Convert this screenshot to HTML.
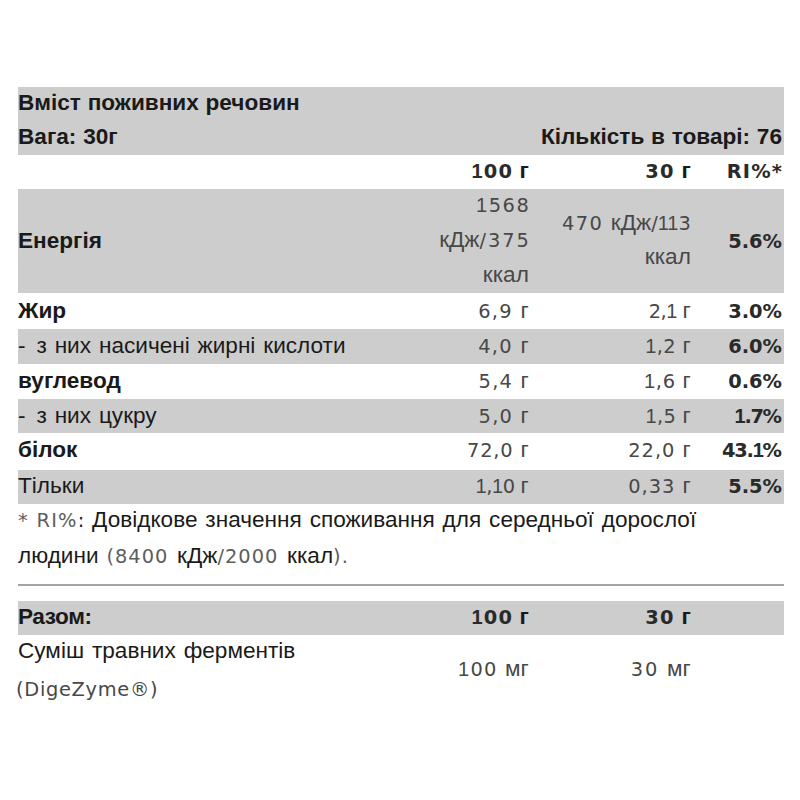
<!DOCTYPE html>
<html lang="uk">
<head>
<meta charset="utf-8">
<title>Вміст поживних речовин</title>
<style>
html,body{margin:0;padding:0;background:#fff;}
body{width:800px;height:800px;position:relative;overflow:hidden;
  font-family:"Liberation Sans",Arial,sans-serif;font-size:22.6px;color:#1a1a1a;}
.band{position:absolute;left:18px;width:766px;background:#cdcdcd;}
.rule{position:absolute;left:18px;width:766px;top:584px;height:2px;background:#a3a3a3;}
.ln{position:absolute;white-space:nowrap;line-height:35px;height:35px;}
.l{left:18px;}
.ws{word-spacing:1.6px;}
.b.ws{word-spacing:0.5px;}
.r2{right:271.2px;text-align:right;}
.r3{right:109.2px;text-align:right;}
.r4{right:18px;text-align:right;}
.b{font-weight:bold;}
.v{color:#484848;}
.d{font-family:"DejaVu Sans",sans-serif;font-size:19.4px;line-height:0;}
.db{font-family:"DejaVu Sans",sans-serif;font-size:19.4px;line-height:0;font-weight:bold;color:#2a2a2a;}
.fn{color:#5e5e5e;}
.n1{font-family:"Liberation Sans",sans-serif;font-size:20px;}
</style>
</head>
<body>
<div class="band" style="top:87px;height:68px"></div>
<div class="band" style="top:189px;height:104px"></div>
<div class="band" style="top:329px;height:35px"></div>
<div class="band" style="top:399px;height:34px"></div>
<div class="band" style="top:470px;height:34px"></div>
<div class="band" style="top:601px;height:34px"></div>
<div class="rule"></div>
<div class="ln l b ws" style="top:85px">Вміст поживних речовин</div>
<div class="ln l b ws" style="top:119px">Вага: 30г</div>
<div class="ln r4 b ws" style="top:119px">Кількість в товарі: 76</div>
<div class="ln r2 b" style="top:153px"><span class="db" style="letter-spacing:1.16px"><span class="n1">1</span>00</span> г</div>
<div class="ln r3 b" style="top:153px"><span class="db" style="letter-spacing:1.50px">30</span> г</div>
<div class="ln r4 b" style="top:153px;margin-right:-1.20px"><span class="db" style="letter-spacing:1.20px">RI%*</span></div>
<div class="ln l ws b" style="top:223px">Енергія</div>
<div class="ln r2 v" style="top:187px;margin-right:-1.54px"><span class="d" style="letter-spacing:1.54px"><span class="n1">1</span>568</span></div>
<div class="ln r2 v" style="top:222px;margin-right:-1.93px">кДж<span class="d" style="letter-spacing:1.93px">/375</span></div>
<div class="ln r2 v" style="top:257px">ккал</div>
<div class="ln r3 v" style="top:205px;margin-right:0.00px"><span class="d" style="letter-spacing:1.40px">470 </span>кДж<span class="d" style="letter-spacing:0.00px">/<span class="n1">1</span><span class="n1">1</span>3</span></div>
<div class="ln r3 v" style="top:239px">ккал</div>
<div class="ln r4" style="top:223px"><span class="db" style="letter-spacing:0.00px">5.6%</span></div>
<div class="ln l ws b" style="top:293px">Жир</div>
<div class="ln r2 v" style="top:293px"><span class="d" style="letter-spacing:1.35px">6,9 </span>г</div>
<div class="ln r3 v" style="top:293px"><span class="d" style="letter-spacing:-0.48px">2,<span class="n1">1</span> </span>г</div>
<div class="ln r4" style="top:293px;margin-right:0.00px"><span class="db" style="letter-spacing:0.00px">3.0%</span></div>
<div class="ln l ws" style="top:328px"><span style="letter-spacing:3px">-</span> з них насичені жирні кислоти</div>
<div class="ln r2 v" style="top:328px"><span class="d" style="letter-spacing:1.35px">4,0 </span>г</div>
<div class="ln r3 v" style="top:328px"><span class="d" style="letter-spacing:0.40px"><span class="n1">1</span>,2 </span>г</div>
<div class="ln r4" style="top:328px;margin-right:0.00px"><span class="db" style="letter-spacing:0.00px">6.0%</span></div>
<div class="ln l ws b" style="top:363px">вуглевод</div>
<div class="ln r2 v" style="top:363px"><span class="d" style="letter-spacing:1.25px">5,4 </span>г</div>
<div class="ln r3 v" style="top:363px"><span class="d" style="letter-spacing:0.71px"><span class="n1">1</span>,6 </span>г</div>
<div class="ln r4" style="top:363px;margin-right:0.00px"><span class="db" style="letter-spacing:0.00px">0.6%</span></div>
<div class="ln l ws" style="top:398px"><span style="letter-spacing:3px">-</span> з них цукру</div>
<div class="ln r2 v" style="top:398px"><span class="d" style="letter-spacing:1.25px">5,0 </span>г</div>
<div class="ln r3 v" style="top:398px"><span class="d" style="letter-spacing:0.30px"><span class="n1">1</span>,5 </span>г</div>
<div class="ln r4" style="top:398px;margin-right:1.33px"><span class="db" style="letter-spacing:-1.33px"><span class="n1">1</span>.7%</span></div>
<div class="ln l ws b" style="top:432px">білок</div>
<div class="ln r2 v" style="top:432px"><span class="d" style="letter-spacing:0.84px">72,0 </span>г</div>
<div class="ln r3 v" style="top:432px"><span class="d" style="letter-spacing:1.00px">22,0 </span>г</div>
<div class="ln r4" style="top:432px;margin-right:1.25px"><span class="db" style="letter-spacing:-1.25px">43.<span class="n1">1</span>%</span></div>
<div class="ln l ws" style="top:468px">Тільки</div>
<div class="ln r2 v" style="top:468px"><span class="d" style="letter-spacing:-0.36px"><span class="n1">1</span>,<span class="n1">1</span>0 </span>г</div>
<div class="ln r3 v" style="top:468px"><span class="d" style="letter-spacing:1.00px">0,33 </span>г</div>
<div class="ln r4" style="top:468px;margin-right:0.00px"><span class="db" style="letter-spacing:0.00px">5.5%</span></div>
<div class="ln l ws" style="top:502px"><span class="d fn">*</span><span class="d fn" style="letter-spacing:1.15px"> RI%</span><span class="d">:</span> Довідкове значення споживання для середньої дорослої</div>
<div class="ln l ws" style="top:538px">людини <span class="d fn" style="letter-spacing:1.00px">(8400 </span>кДж<span class="d fn" style="letter-spacing:1.00px">/2000 </span>ккал<span class="d fn" style="letter-spacing:1.00px">).</span></div>
<div class="ln l ws b" style="top:599px;letter-spacing:-0.4px">Разом:</div>
<div class="ln r2 b" style="top:599px"><span class="db" style="letter-spacing:1.16px"><span class="n1">1</span>00</span> г</div>
<div class="ln r3 b" style="top:599px"><span class="db" style="letter-spacing:1.50px">30</span> г</div>
<div class="ln l ws" style="top:633px">Суміш травних ферментів</div>
<div class="ln l v" style="top:671px;left:16px"><span class="d" style="letter-spacing:0.70px">(DigeZyme®)</span></div>
<div class="ln r2 v" style="top:651px"><span class="d" style="letter-spacing:1.25px"><span class="n1">1</span>00 </span>мг</div>
<div class="ln r3 v" style="top:651px"><span class="d" style="letter-spacing:1.80px">30 </span>мг</div>
</body>
</html>
